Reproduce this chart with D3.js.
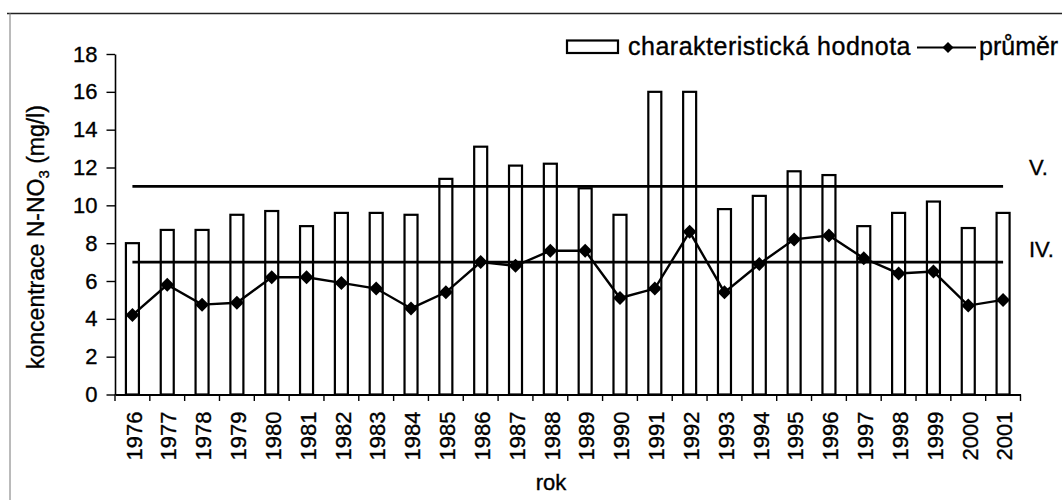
<!DOCTYPE html>
<html>
<head>
<meta charset="utf-8">
<script src="https://cdn.jsdelivr.net/npm/d3@7"></script>
<style>
  html, body { margin: 0; padding: 0; background: #fff; }
  svg { display: block; font-family: "Liberation Sans", Arial, sans-serif; }
  svg text { stroke: #000; stroke-width: 0.35px; }
</style>
</head>
<body>
<svg id="chart" width="1062" height="500"></svg>
<script>
// ---- data ----
const years = ["1976","1977","1978","1979","1980","1981","1982","1983","1984","1985","1986","1987","1988",
               "1989","1990","1991","1992","1993","1994","1995","1996","1997","1998","1999","2000","2001"];
const charValues = [8.0, 8.7, 8.7, 9.5, 9.7, 8.9, 9.6, 9.6, 9.5, 11.4, 13.1, 12.1, 12.2,
                    10.9, 9.5, 16.0, 16.0, 9.8, 10.5, 11.8, 11.6, 8.9, 9.6, 10.2, 8.8, 9.6];
const meanValues = [4.2, 5.8, 4.75, 4.85, 6.2, 6.2, 5.9, 5.6, 4.55, 5.4, 7.0, 6.8, 7.6,
                    7.6, 5.1, 5.6, 8.6, 5.4, 6.9, 8.2, 8.4, 7.2, 6.4, 6.5, 4.7, 5.0];
const limitLabels = ["V.", "IV."];
const limitValues = [11, 7];
const yTicks = [0, 2, 4, 6, 8, 10, 12, 14, 16, 18];
const seriesNames = ["charakteristická hodnota", "průměr"];
const yTitle = ["koncentrace N-NO", "3", " (mg/l)"];
const xTitle = "rok";

// ---- layout ----
const svg = d3.select("#chart");
const plot = { left: 115, right: 1020.5, top: 54, bottom: 394.5 };

const x = d3.scaleBand().domain(years).range([plot.left, plot.right]).paddingInner(0).paddingOuter(0);
const y = d3.scaleLinear().domain([0, 18]).range([plot.bottom, plot.top]);
const cx = d => x(d) + x.bandwidth() / 2;
const barW = 13;

// frame (scanned page border)
svg.append("line").attr("x1", 7).attr("x2", 1062).attr("y1", 13.5).attr("y2", 13.5)
  .attr("stroke", "#222").attr("stroke-width", 1.5);
svg.append("line").attr("x1", 10).attr("x2", 10).attr("y1", 13).attr("y2", 500)
  .attr("stroke", "#777").attr("stroke-width", 1);

// bars
svg.append("g").selectAll("rect").data(years).join("rect")
  .attr("x", d => cx(d) - barW / 2)
  .attr("y", (d, i) => y(charValues[i]))
  .attr("width", barW)
  .attr("height", (d, i) => y(0) - y(charValues[i]))
  .attr("fill", "#fff").attr("stroke", "#000").attr("stroke-width", 2.2);

// limit lines
limitValues.forEach((v, k) => {
  svg.append("path")
    .datum(years)
    .attr("d", d3.line().x(d => cx(d)).y(() => y(v)))
    .attr("fill", "none").attr("stroke", "#000").attr("stroke-width", 2.6);
});
svg.append("g").selectAll("text").data(limitLabels).join("text")
  .attr("x", 1029)
  .attr("y", (d, i) => y(limitValues[i]) - [11, 5][i])
  .attr("font-size", 22).attr("fill", "#000")
  .text(d => d);

// mean line
svg.append("path")
  .datum(years)
  .attr("d", d3.line().x(d => cx(d)).y((d, i) => y(meanValues[i])))
  .attr("fill", "none").attr("stroke", "#000").attr("stroke-width", 2.4);

const diamond = r => `M0,${-r}L${r},0L0,${r}L${-r},0Z`;
svg.append("g").selectAll("path").data(years).join("path")
  .attr("transform", (d, i) => `translate(${cx(d)},${y(meanValues[i])})`)
  .attr("d", diamond(7))
  .attr("fill", "#000");

// y axis
const yAxis = svg.append("g")
  .attr("transform", `translate(${plot.left},0)`)
  .call(d3.axisLeft(y).tickValues(yTicks).tickSize(8.5).tickSizeOuter(0).tickPadding(9));
yAxis.select(".domain").attr("stroke", "#000").attr("stroke-width", 1.6);
yAxis.selectAll(".tick line").attr("stroke", "#000").attr("stroke-width", 1.4);
yAxis.selectAll(".tick text").attr("font-size", 22).attr("fill", "#000")
  .attr("font-family", "'Liberation Sans', Arial, sans-serif");

// x axis
const xAxis = svg.append("g")
  .attr("transform", `translate(0,${plot.bottom})`)
  .call(d3.axisBottom(x).tickSize(0).tickPadding(0).tickSizeOuter(0));
xAxis.select(".domain").attr("stroke", "#000").attr("stroke-width", 2);
xAxis.selectAll(".tick text")
  .attr("font-size", 22).attr("fill", "#000")
  .attr("font-family", "'Liberation Sans', Arial, sans-serif")
  .attr("text-anchor", "end")
  .attr("transform", "translate(0,17) rotate(-90)")
  .attr("x", 0).attr("y", 0).attr("dy", "0.42em");
// category boundary ticks
const bounds = years.map(d => x(d)).concat([x.range()[1]]);
svg.append("g").selectAll("line").data(bounds).join("line")
  .attr("x1", d => d).attr("x2", d => d)
  .attr("y1", plot.bottom).attr("y2", plot.bottom + 6.5)
  .attr("stroke", "#000").attr("stroke-width", 1.4);

// axis titles
const yt = svg.append("text")
  .attr("transform", "translate(44,237) rotate(-90)")
  .attr("text-anchor", "middle").attr("font-size", 23).attr("fill", "#000");
yt.append("tspan").text(yTitle[0]);
yt.append("tspan").attr("font-size", 15).attr("dy", 5).text(yTitle[1]);
yt.append("tspan").attr("dy", -5).text(yTitle[2]);

svg.append("text").attr("x", 551).attr("y", 490).attr("text-anchor", "middle")
  .attr("font-size", 22).attr("fill", "#000").text(xTitle);

// legend
const lg = svg.append("g");
lg.append("rect").attr("x", 567).attr("y", 40.5).attr("width", 51).attr("height", 12.5)
  .attr("fill", "#fff").attr("stroke", "#000").attr("stroke-width", 2.2);
lg.append("text").attr("x", 628).attr("y", 54.5).attr("font-size", 25)
  .attr("letter-spacing", 0.5).attr("fill", "#000").text(seriesNames[0]);
lg.append("line").attr("x1", 917).attr("x2", 976).attr("y1", 47.5).attr("y2", 47.5)
  .attr("stroke", "#000").attr("stroke-width", 2.2);
lg.append("path").attr("transform", "translate(948,47.5)").attr("d", diamond(5.5)).attr("fill", "#000");
lg.append("text").attr("x", 979).attr("y", 54.5).attr("font-size", 25)
  .attr("fill", "#000").text(seriesNames[1]);
</script>
</body>
</html>
